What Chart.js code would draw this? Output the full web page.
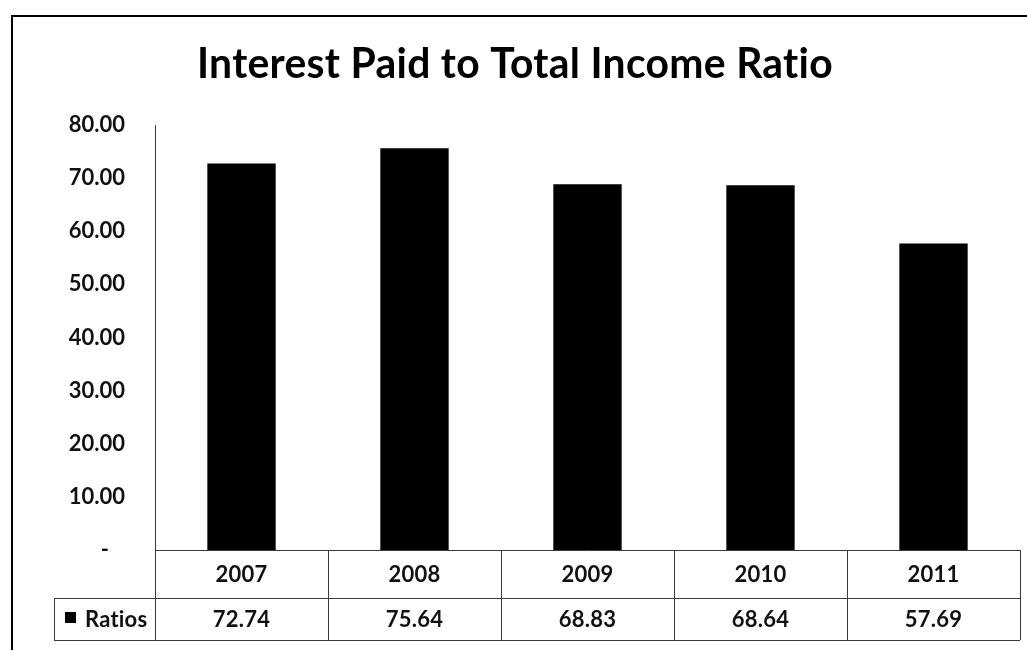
<!DOCTYPE html>
<html>
<head>
<meta charset="utf-8">
<title>Interest Paid to Total Income Ratio</title>
<script src="https://cdn.jsdelivr.net/npm/chart.js@4/dist/chart.umd.min.js"></script>
<style>
  html, body { margin: 0; padding: 0; background: #fff; }
  #wrap { width: 1027px; height: 650px; }
</style>
</head>
<body>
<div id="wrap"><canvas id="chart" width="1027" height="650"></canvas></div>
<script>
// datos del gráfico
const chartTitle = 'Interest Paid to Total Income Ratio';
const years = ['2007', '2008', '2009', '2010', '2011'];
const ratios = [72.74, 75.64, 68.83, 68.64, 57.69];
const seriesName = 'Ratios';
const yMax = 80;
const yStep = 10;

const FONT = 'Lato, "DejaVu Sans", sans-serif';
const INK = '#111';
const LINE = '#3a3a3a';

// tabla de datos, marco y título dibujados a mano
const tablePlugin = {
  id: 'dataTable',
  afterDraw(chart) {
    const { ctx, chartArea, scales } = chart;
    const x = scales.x;
    const left = chartArea.left;
    const right = chartArea.right;
    const top = chartArea.bottom;
    const mid = top + 48;
    const bottom = mid + 42;
    const labelLeft = 54;

    ctx.save();

    // marco exterior
    ctx.strokeStyle = '#000';
    ctx.lineWidth = 2;
    ctx.beginPath();
    ctx.moveTo(12, 650);
    ctx.lineTo(12, 16);
    ctx.lineTo(1027, 16);
    ctx.stroke();

    // título (con un poco de espaciado para evitar ligaduras)
    ctx.fillStyle = '#000';
    ctx.font = 'bold 42px ' + FONT;
    ctx.letterSpacing = '0.3px';
    ctx.textBaseline = 'middle';
    ctx.textAlign = 'center';
    const tw = ctx.measureText(chartTitle).width;
    const sx = 636 / tw;
    ctx.save();
    ctx.translate(515, 64);
    ctx.scale(sx, 1);
    ctx.fillText(chartTitle, 0, 0);
    ctx.restore();

    // líneas de la tabla
    ctx.strokeStyle = LINE;
    ctx.lineWidth = 1;
    ctx.beginPath();
    ctx.moveTo(left, top + 0.5);
    ctx.lineTo(right, top + 0.5);
    ctx.moveTo(labelLeft, mid + 0.5);
    ctx.lineTo(right, mid + 0.5);
    ctx.moveTo(labelLeft, bottom + 0.5);
    ctx.lineTo(right, bottom + 0.5);
    ctx.moveTo(labelLeft + 0.5, mid);
    ctx.lineTo(labelLeft + 0.5, bottom);
    const step = (right - left) / years.length;
    for (let i = 0; i <= years.length; i++) {
      const px = Math.round(left + step * i) + 0.5;
      ctx.moveTo(px, top);
      ctx.lineTo(px, bottom);
    }
    ctx.stroke();

    // textos de la tabla
    ctx.fillStyle = INK;
    ctx.font = 'bold 22px ' + FONT;
    ctx.letterSpacing = '0.2px';
    ctx.textAlign = 'center';
    years.forEach((yr, i) => {
      const cx = x.getPixelForValue(i);
      ctx.fillText(yr, cx, (top + mid) / 2 + 1);
      ctx.fillText(ratios[i].toFixed(2), cx, (mid + bottom) / 2 + 1);
    });

    // leyenda en la fila
    ctx.fillStyle = '#000';
    ctx.fillRect(65, 612, 11, 11);
    ctx.fillStyle = INK;
    ctx.textAlign = 'left';
    ctx.fillText(seriesName, 85, (mid + bottom) / 2 + 1);

    ctx.restore();
  }
};

const ctx = document.getElementById('chart').getContext('2d');

new Chart(ctx, {
  type: 'bar',
  data: {
    labels: years,
    datasets: [{
      label: seriesName,
      data: ratios,
      backgroundColor: '#000',
      borderWidth: 0,
      barPercentage: 0.395,
      categoryPercentage: 1.0
    }]
  },
  options: {
    responsive: false,
    animation: false,
    layout: {
      padding: { left: 0, right: 7, top: 125, bottom: 100 }
    },
    plugins: {
      legend: { display: false },
      title: { display: false },
      tooltip: { enabled: false }
    },
    scales: {
      x: {
        display: false
      },
      y: {
        min: 0,
        max: yMax,
        afterFit(scale) { scale.width = 155; },
        grid: { display: false, drawTicks: false },
        border: { display: true, color: LINE, width: 1 },
        ticks: {
          stepSize: yStep,
          padding: 30,
          color: INK,
          font: { family: FONT, size: 22, weight: 'bold' },
          // el cero se muestra como guion, al estilo contable
          callback: (v) => v === 0 ? '-   ' : v.toFixed(2)
        }
      }
    }
  },
  plugins: [tablePlugin]
});
</script>
</body>
</html>
